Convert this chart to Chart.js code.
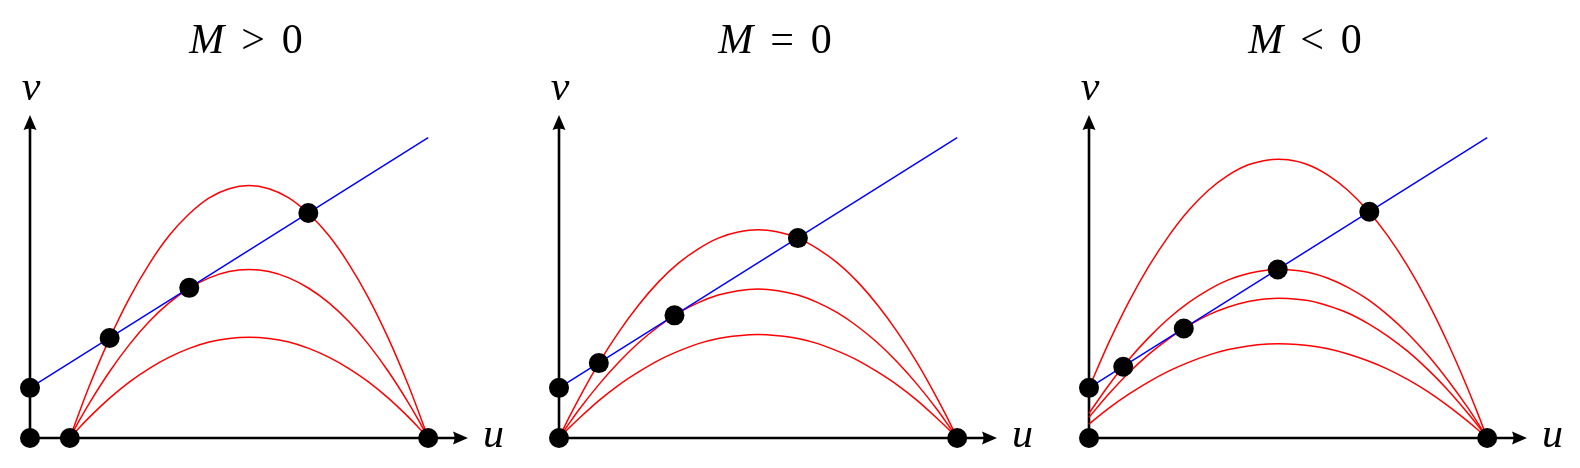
<!DOCTYPE html>
<html>
<head>
<meta charset="utf-8">
<script src="https://cdn.jsdelivr.net/npm/chart.js@4/dist/chart.umd.min.js"></script>
<style>
  html,body{margin:0;padding:0;background:#fff;}
  #wrap{position:relative;width:1580px;height:468px;background:#fff;overflow:hidden;}
  #wrap canvas{position:absolute;top:0;}
</style>
</head>
<body>
<div id="wrap">
  <canvas id="pPos" width="520" height="468" style="left:0px"></canvas>
  <canvas id="pZero" width="520" height="468" style="left:529px"></canvas>
  <canvas id="pNeg" width="520" height="468" style="left:1059px"></canvas>
</div>
<script>
/* ---- data (u horizontal, v vertical) ---- */
const relations = ['>', '=', '<'];

// blue straight line
const lineU = [0, 10];
const lineV = [1.26, 7.54];

// M > 0 : red curves from u=1 to u=10
const uPos     = [1,1.25,1.5,2,2.5,3,3.5,4,4.5,5,5.5,6,6.5,7,7.5,8,8.5,9,9.5,9.75,10];
const vPosHigh = [0,0.68,1.33,2.50,3.52,4.38,5.09,5.63,6.03,6.26,6.34,6.26,6.03,5.63,5.09,4.38,3.52,2.50,1.33,0.68,0];
const vPosMid  = [0,0.46,0.89,1.67,2.35,2.93,3.40,3.76,4.02,4.18,4.23,4.18,4.02,3.76,3.40,2.93,2.35,1.67,0.89,0.46,0];
const vPosLow  = [0,0.27,0.53,1.00,1.41,1.75,2.03,2.25,2.41,2.50,2.53,2.50,2.41,2.25,2.03,1.75,1.41,1.00,0.53,0.27,0];
const dotsPosU = [0,1,10,0,2.0,4.0,6.99];
const dotsPosV = [0,0,0,1.26,2.51,3.77,5.65];

// M = 0 : red curves from u=0 to u=10
const uZero     = [0,0.25,0.5,1,1.5,2,2.5,3,3.5,4,4.5,5,5.5,6,6.5,7,7.5,8,8.5,9,9.5,9.75,10];
const vZeroHigh = [0,0.51,0.99,1.88,2.66,3.34,3.92,4.39,4.75,5.02,5.17,5.23,5.17,5.02,4.75,4.39,3.92,3.34,2.66,1.88,0.99,0.51,0];
const vZeroMid  = [0,0.36,0.71,1.34,1.90,2.39,2.80,3.14,3.40,3.59,3.70,3.74,3.70,3.59,3.40,3.14,2.80,2.39,1.90,1.34,0.71,0.36,0];
const vZeroLow  = [0,0.25,0.49,0.94,1.33,1.66,1.95,2.18,2.37,2.50,2.57,2.60,2.57,2.50,2.37,2.18,1.95,1.66,1.33,0.94,0.49,0.25,0];
const dotsZeroU = [0,10,0,1.0,2.9,6.0];
const dotsZeroV = [0,0,1.26,1.88,3.08,5.02];

// M < 0 : red curves start on the v axis
const uNeg     = [0,0.5,1,1.5,2,2.5,3,3.5,4,4.5,4.75,5,5.5,6,6.5,7,7.5,8,8.5,9,9.5,9.75,10];
const vNegTop  = [1.26,2.40,3.42,4.31,5.07,5.71,6.22,6.60,6.86,6.983,6.999,6.984,6.86,6.60,6.22,5.71,5.08,4.32,3.43,2.41,1.27,0.65,0];
const vNegHigh = [0.62,1.33,1.97,2.52,3.00,3.40,3.72,3.97,4.13,4.217,4.231,4.225,4.16,4.01,3.78,3.48,3.09,2.63,2.09,1.47,0.78,0.40,0];
const vNegMid  = [0.52,1.11,1.64,2.10,2.49,2.82,3.09,3.29,3.43,3.499,3.510,3.505,3.45,3.32,3.14,2.88,2.56,2.18,1.73,1.22,0.64,0.33,0];
const vNegLow  = [0.35,0.75,1.10,1.41,1.68,1.90,2.08,2.22,2.31,2.358,2.366,2.363,2.32,2.24,2.11,1.94,1.73,1.47,1.17,0.82,0.43,0.22,0];
const dotsNegU = [0,10,0,0.86,2.38,4.74,7.04];
const dotsNegV = [0,0,1.26,1.79,2.75,4.23,5.68];

/* ---- helpers ---- */
const pts = (us, vs) => us.map((u,i)=>({x:u, y:vs[i]}));

// order: higher drawn first, so dots end up on top
const red  = d => ({ data:d, order:3, showLine:true, borderColor:'#ff0000', borderWidth:1.5,
  pointRadius:0, cubicInterpolationMode:'monotone', fill:false, clip:false });
const blue = d => ({ data:d, order:2, showLine:true, borderColor:'#0000ff', borderWidth:1.5,
  pointRadius:0, fill:false, clip:false });
const dots = d => ({ data:d, order:1, showLine:false, pointRadius:10, pointBackgroundColor:'#000',
  pointBorderWidth:0, clip:false });

const SERIF = '"Liberation Serif", serif';

function arrow(ctx, x, y, dir){
  const L = 15, W = 6.5;
  ctx.save();
  ctx.translate(x, y);
  if(dir==='up') ctx.rotate(-Math.PI/2);
  ctx.beginPath();
  ctx.moveTo(0,0);
  ctx.lineTo(-L,-W);
  ctx.quadraticCurveTo(-L*0.8,0,-L,W);
  ctx.closePath();
  ctx.fillStyle = '#000';
  ctx.fill();
  ctx.restore();
}

const axesPlugin = {
  id:'axes',
  beforeDatasetsDraw(chart, args, opts){
    const {ctx, scales:{x, y}} = chart;
    const ox = x.getPixelForValue(0), oy = y.getPixelForValue(0);
    const xr = x.right, yt = y.top;
    ctx.save();
    ctx.strokeStyle = '#000';
    ctx.lineWidth = 2.6;
    ctx.beginPath();
    ctx.moveTo(ox, oy); ctx.lineTo(xr-8, oy);
    ctx.moveTo(ox, oy); ctx.lineTo(ox, yt+8);
    ctx.stroke();
    arrow(ctx, xr, oy, 'right');
    arrow(ctx, ox, yt, 'up');

    // axis names
    ctx.fillStyle = '#000';
    ctx.font = 'italic 42px ' + SERIF;
    ctx.textBaseline = 'alphabetic';
    ctx.textAlign = 'left';
    ctx.fillText('u', xr+15, oy+9);
    ctx.textAlign = 'center';
    ctx.fillText('v', ox+1, yt-15);

    // title  "M rel 0"
    const fI = 'italic 42px ' + SERIF, fR = '42px ' + SERIF;
    ctx.textAlign = 'left';
    ctx.font = fI; const wM = ctx.measureText('M').width;
    ctx.font = fR; const wR = ctx.measureText(opts.rel).width, w0 = ctx.measureText('0').width;
    const gap = 17, total = wM + gap + wR + gap + w0;
    let tx = ox + 216 - total/2;
    const ty = 53;
    ctx.font = fI; ctx.fillText('M', tx, ty); tx += wM + gap;
    ctx.font = fR; ctx.fillText(opts.rel, tx, ty); tx += wR + gap;
    ctx.fillText('0', tx, ty);
    ctx.restore();
  }
};

function makePanel(id, rel, curves, dotData){
  new Chart(document.getElementById(id), {
    type:'scatter',
    data:{ datasets:[ ...curves.map(red), blue(pts(lineU, lineV)), dots(dotData) ] },
    options:{
      responsive:false, animation:false, events:[],
      layout:{ padding:{ left:30, right:52, top:115, bottom:30 } },
      plugins:{ legend:{display:false}, tooltip:{enabled:false}, axes:{ rel } },
      scales:{
        x:{ type:'linear', min:0, max:11, display:false },
        y:{ type:'linear', min:0, max:8.11, display:false }
      }
    },
    plugins:[axesPlugin]
  });
}

makePanel('pPos', relations[0],
  [pts(uPos, vPosHigh), pts(uPos, vPosMid), pts(uPos, vPosLow)],
  pts(dotsPosU, dotsPosV));
makePanel('pZero', relations[1],
  [pts(uZero, vZeroHigh), pts(uZero, vZeroMid), pts(uZero, vZeroLow)],
  pts(dotsZeroU, dotsZeroV));
makePanel('pNeg', relations[2],
  [pts(uNeg, vNegTop), pts(uNeg, vNegHigh), pts(uNeg, vNegMid), pts(uNeg, vNegLow)],
  pts(dotsNegU, dotsNegV));
</script>
</body>
</html>
